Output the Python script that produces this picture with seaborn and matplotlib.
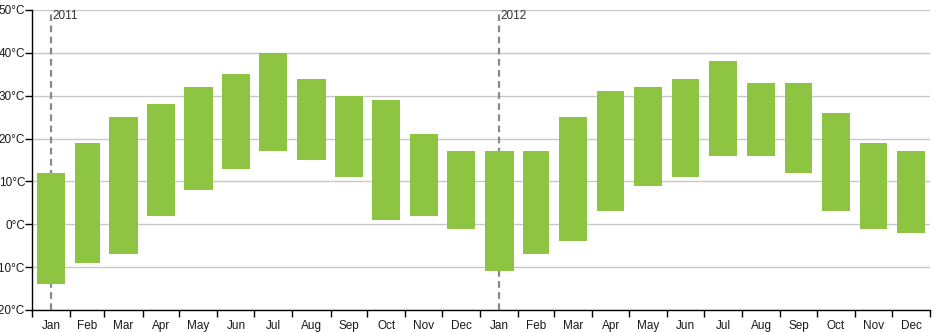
import matplotlib
matplotlib.use("Agg")
import matplotlib.pyplot as plt
import matplotlib.dates as mdates
import seaborn as sns
import pandas as pd
import numpy as np
from datetime import datetime

months = ["Jan", "Feb", "Mar", "Apr", "May", "Jun", "Jul", "Aug", "Sep", "Oct", "Nov", "Dec"]
years = [2011, 2012]
low = [-14, -9, -7, 2, 8, 13, 17, 15, 11, 1, 2, -1,
       -11, -7, -4, 3, 9, 11, 16, 16, 12, 3, -1, -2]
high = [12, 19, 25, 28, 32, 35, 40, 34, 30, 29, 21, 17,
        17, 17, 25, 31, 32, 34, 38, 33, 33, 26, 19, 17]
y_ticks = [-20, -10, 0, 10, 20, 30, 40, 50]

sns.set_theme(style="white")
plt.rcParams['font.family'] = ['Liberation Sans', 'DejaVu Sans']

starts = [datetime(y, m, 1) for y in years for m in range(1, 13)]
ends = starts[1:] + [datetime(years[-1] + 1, 1, 1)]
s_num = mdates.date2num(starts)
e_num = mdates.date2num(ends)
mid = (s_num + e_num) / 2
length = e_num - s_num

df = pd.DataFrame({"mid": mid, "len": length, "low": low, "high": high,
                   "label": months * len(years)})

fig = plt.figure(figsize=(9.39, 3.32), dpi=100)
ax = fig.add_axes([32/939, 22/332, 898/939, 300/332])

ax.bar(df["mid"], df["high"] - df["low"], width=df["len"] * 0.74, bottom=df["low"],
       color="#8DC441", edgecolor="none", zorder=3)

ax.set_xlim(s_num[0], e_num[-1])
ax.set_ylim(-20, 50)
ax.set_yticks(y_ticks)
ax.set_yticklabels([f"{v}°C" for v in y_ticks])
ax.yaxis.grid(True, color="#C8C8C8", linewidth=1, zorder=0)
ax.xaxis.grid(False)

ax.set_xticks(list(s_num) + [e_num[-1]])
ax.set_xticklabels([])
ax.set_xticks(mid, minor=True)
ax.set_xticklabels(df["label"], minor=True)
ax.tick_params(axis="x", which="major", length=5, width=1, color="black", direction="out", bottom=True)
ax.tick_params(axis="x", which="minor", length=0, pad=7, labelsize=8.5, labelcolor="#1a1a1a")
ax.tick_params(axis="y", which="major", length=5, width=1, color="black", direction="out",
               left=True, pad=0, labelsize=8.5, labelcolor="#1a1a1a")

for sp in ["top", "right"]:
    ax.spines[sp].set_visible(False)
for sp in ["left", "bottom"]:
    ax.spines[sp].set_color("black")
    ax.spines[sp].set_linewidth(1)

for i, y in enumerate(years):
    xm = mid[i * 12]
    ax.axvline(xm, color="#888888", linestyle=(0, (3, 2)), linewidth=1.6, zorder=2)
    ax.text(xm + 1, 48.5, str(y), fontsize=8.5, color="#333333", ha="left", va="center")

fig.savefig("out.png", dpi=100)
